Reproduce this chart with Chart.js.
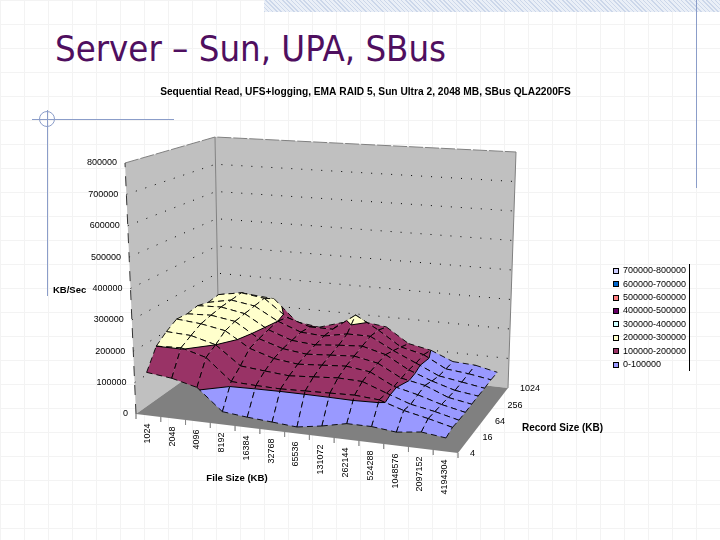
<!DOCTYPE html>
<html>
<head>
<meta charset="utf-8">
<title>Server - Sun, UPA, SBus</title>
<script src="https://cdn.jsdelivr.net/npm/chart.js@4/dist/chart.umd.min.js"></script>
<style>
    html, body { margin: 0; padding: 0; background: #fff; }
    #slide {
        position: relative; width: 720px; height: 540px; overflow: hidden;
        background-image:
            linear-gradient(to right, #f3f3f3 1px, transparent 1px),
            linear-gradient(to bottom, #f3f3f3 1px, transparent 1px);
        background-size: 24px 24px;
    }
    #slide canvas { position: absolute; left: 0; top: 0; }
    h1 {
        position: absolute; left: 55px; top: 27px; margin: 0;
        font: normal 36.2px "DejaVu Sans Condensed", "DejaVu Sans", sans-serif;
        color: #4f0f5f; white-space: nowrap;
    }
    .band {
        position: absolute; left: 264px; top: 0; width: 456px; height: 12px;
        background: repeating-linear-gradient(45deg, #ccd7ea 0 1px, #eaeff7 1px 3px);
    }
    .deco { position: absolute; background: #8b9dc9; }
    .ring {
        position: absolute; left: 39px; top: 111px; width: 14px; height: 14px;
        border: 1px solid #8b9dc9; border-radius: 50%;
    }
</style>
</head>
<body>
<div id="slide">
    <div class="band"></div>
    <div class="deco" style="left:696px;top:0;width:1px;height:188px"></div>
    <div class="deco" style="left:32px;top:119px;width:142px;height:1px"></div>
    <div class="deco" style="left:47px;top:110px;width:1px;height:186px"></div>
    <div class="ring"></div>
    <h1>Server – Sun, UPA, SBus</h1>
    <canvas id="myChart" width="720" height="540"></canvas>
</div>
<script>
const chartTitle = 'Sequential Read, UFS+logging, EMA RAID 5, Sun Ultra 2, 2048 MB, SBus QLA2200FS';

const fileSizes = ['1024', '2048', '4096', '8192', '16384', '32768', '65536', '131072', '262144', '524288', '1048576', '2097152', '4194304'];
const recordLabels = ['4', '16', '64', '256', '1024'];
const valueTicks = [0, 100000, 200000, 300000, 400000, 500000, 600000, 700000, 800000];

// KB/Sec for each record size, one value per file size
const record4 = [137000, 127000, 107000, 40000, 32000, 26000, 20000, 32000, 48000, 48000, 40000, 49000, 40000];
const record8 = [200000, 203000, 180000, 112000, 108000, 106000, 108000, 110000, 112000, 106000, 82000, 66000, 48000];
const record16 = [227000, 222000, 200000, 140000, 132000, 125000, 130000, 135000, 132000, 104000, 78000, 64000, 46000];
const record32 = [248000, 240000, 225000, 175000, 150000, 140000, 145000, 150000, 140000, 102000, 84000, 62000, 46000];
const record64 = [245000, 248000, 235000, 185000, 160000, 150000, 155000, 160000, 145000, 105000, 90000, 60000, 47000];
const record128 = [252000, 255000, 240000, 193000, 165000, 158000, 165000, 170000, 150000, 108000, 80000, 58000, 48000];
const record256 = [242000, 258000, 245000, 200000, 170000, 165000, 180000, 180000, 140000, 106000, 72000, 60000, 48000];
const record512 = [248000, 262000, 250000, 190000, 165000, 165000, 222000, 178000, 128000, 110000, 70000, 62000, 50000];
const record1024 = [224000, 233000, 226000, 151000, 140000, 164000, 175000, 165000, 115000, 100000, 69000, 65000, 49000];
const surface = [record4, record8, record16, record32, record64, record128, record256, record512, record1024];

const bandLabels = ['700000-800000', '600000-700000', '500000-600000', '400000-500000', '300000-400000', '200000-300000', '100000-200000', '0-100000'];
const bandColors = ['#CCCCFF', '#0066CC', '#FF8080', '#660066', '#CCFFFF', '#FFFFCC', '#993366', '#9999FF'];

const maxValue = 800000;
const bandSize = 100000;

// corners of the 3D box on the page
const floorBox = { fl: [136, 414], fr: [458, 453], bl: [219, 355], br: [508, 388] };
const topBox = { fl: [125, 163], fr: [466, 181], bl: [215, 137], br: [516, 152] };

const lerp = (a, b, t) => a + (b - a) * t;

const boxPoint = (box, a, b) => [
    lerp(lerp(box.fl[0], box.fr[0], a), lerp(box.bl[0], box.br[0], a), b),
    lerp(lerp(box.fl[1], box.fr[1], a), lerp(box.bl[1], box.br[1], a), b)
];

// a = along file size 0..1, b = along record size 0..1
const project = (a, b, value) => {
    const f = boxPoint(floorBox, a, b);
    const t = boxPoint(topBox, a, b);
    const k = value / maxValue;
    return { x: lerp(f[0], t[0], k), y: lerp(f[1], t[1], k) };
};

// file sizes sit in the middle of their bands, record sizes on the ticks
const gridPoint = (i, j, value) => project((i + 0.5) / fileSizes.length, j / (surface.length - 1), value);

const datasets = [];

const addShape = (points, color) => {
    datasets.push({ data: points, showLine: true, fill: 'shape', backgroundColor: color, borderWidth: 0, borderColor: 'transparent', pointRadius: 0 });
};

const addLine = (points, color, width, dash) => {
    datasets.push({ data: points, showLine: true, fill: false, borderColor: color, borderWidth: width, borderDash: dash, pointRadius: 0 });
};

// walls and floor
addShape([project(0, 0, 0), project(0, 1, 0), project(0, 1, maxValue), project(0, 0, maxValue), project(0, 0, 0)], '#C0C0C0');
addShape([project(0, 1, 0), project(1, 1, 0), project(1, 1, maxValue), project(0, 1, maxValue), project(0, 1, 0)], '#C0C0C0');
valueTicks.slice(1, -1).forEach(v => {
    addLine([project(0, 0, v), project(0, 1, v), project(1, 1, v)], '#000', 1, [1, 9]);
});
addShape([project(0, 0, 0), project(1, 0, 0), project(1, 1, 0), project(0, 1, 0), project(0, 0, 0)], '#808080');
addLine([project(0, 0, maxValue), project(0, 1, maxValue), project(1, 1, maxValue)], '#808080', 1, [14, 2]);
addLine([project(0, 1, 0), project(0, 1, maxValue)], '#808080', 1, []);
addLine([project(1, 1, 0), project(1, 1, maxValue)], '#808080', 1, []);
addLine([project(0, 0, 0), project(0, 0, maxValue)], '#333', 1, [10, 9]);

// tick marks under the front edge
for (let i = 0; i <= fileSizes.length; i++) {
    const p = project(i / fileSizes.length, 0, 0);
    addLine([p, { x: p.x, y: p.y + 5 }], '#777', 0.5, []);
}

// keep the part of the polygon where side * (value - level) >= 0
const clipPolygon = (poly, level, side) => {
    const out = [];
    poly.forEach((p, n) => {
        const q = poly[(n + 1) % poly.length];
        const dp = side * (p.v - level);
        const dq = side * (q.v - level);
        if (dp >= 0) out.push(p);
        if ((dp >= 0) !== (dq >= 0)) {
            const t = (level - p.v) / (q.v - p.v);
            out.push({ i: lerp(p.i, q.i, t), j: lerp(p.j, q.j, t), v: level });
        }
    });
    return out;
};

const levelCrossings = (poly, level) => {
    const out = [];
    poly.forEach((p, n) => {
        const q = poly[(n + 1) % poly.length];
        if ((p.v >= level) !== (q.v >= level)) {
            const t = (level - p.v) / (q.v - p.v);
            out.push(gridPoint(lerp(p.i, q.i, t), lerp(p.j, q.j, t), level));
        }
    });
    return out;
};

const breakPoint = { x: NaN, y: NaN };
const node = (i, j) => ({ i: i, j: j, v: surface[j][i] });
const nodePoint = n => gridPoint(n.i, n.j, n.v);

// draw cells back to front, from the outside towards the middle
const middle = (fileSizes.length - 2) / 2;
const columnOrder = fileSizes.slice(1).map((s, i) => i).sort((a, b) => Math.abs(b - middle) - Math.abs(a - middle));

for (let j = surface.length - 2; j >= 0; j--) {
    columnOrder.forEach(i => {
        const cell = [node(i, j), node(i + 1, j), node(i + 1, j + 1), node(i, j + 1)];

        bandColors.forEach((color, n) => {
            const lo = (bandColors.length - 1 - n) * bandSize;
            let part = clipPolygon(cell, lo, 1);
            if (part.length) part = clipPolygon(part, lo + bandSize, -1);
            if (part.length > 2) {
                const pts = part.map(p => gridPoint(p.i, p.j, p.v));
                pts.push(pts[0]);
                addShape(pts, color);
            }
        });

        valueTicks.forEach(level => {
            const c = levelCrossings(cell, level);
            if (c.length >= 2) addLine([c[0], c[1]], '#000', 1, []);
        });

        // always run the edges the same way so the dashes of neighbours line up
        addLine([
            nodePoint(cell[0]), nodePoint(cell[1]), breakPoint,
            nodePoint(cell[3]), nodePoint(cell[2]), breakPoint,
            nodePoint(cell[0]), nodePoint(cell[3]), breakPoint,
            nodePoint(cell[1]), nodePoint(cell[2])
        ], '#000', 0.9, [6, 4]);
    });
}

// the library paints the first dataset last
datasets.reverse();

const chartText = {
    id: 'chartText',
    afterDraw(chart) {
        const ctx = chart.ctx;
        const sx = chart.scales.x;
        const sy = chart.scales.y;
        const px = p => ({ x: sx.getPixelForValue(p.x), y: sy.getPixelForValue(p.y) });
        const smallFont = '9px "Liberation Sans", Arial, sans-serif';

        const put = (text, x, y, align, font) => {
            ctx.font = font;
            ctx.textAlign = align;
            ctx.textBaseline = 'middle';
            ctx.fillText(text, x, y);
        };

        ctx.save();
        ctx.fillStyle = '#000';

        put(chartTitle, 365.5, 92, 'center', 'bold 10.2px "Liberation Sans", Arial, sans-serif');
        put('KB/Sec', 53, 290, 'left', 'bold 9.5px "Liberation Sans", Arial, sans-serif');
        put('File Size (KB)', 237, 478, 'center', 'bold 9.6px "Liberation Sans", Arial, sans-serif');
        put('Record Size (KB)', 522, 428, 'left', 'bold 10px "Liberation Sans", Arial, sans-serif');

        valueTicks.forEach(v => {
            const p = px(project(0, 0, v));
            put(String(v), p.x - 8, p.y, 'right', smallFont);
        });

        recordLabels.forEach((label, n) => {
            const p = px(project(1, 1 * n / (recordLabels.length - 1), 0));
            put(label, p.x + 12, p.y + 1, 'left', smallFont);
        });

        fileSizes.forEach((label, i) => {
            const p = px(project((i + 0.5) / fileSizes.length, 0, 0));
            ctx.save();
            ctx.translate(p.x - 1, p.y + 8);
            ctx.rotate(-Math.PI / 2);
            put(label, 0, 0, 'right', smallFont);
            ctx.restore();
        });

        // legend
        bandLabels.forEach((label, n) => {
            const y = 270.7 + n * 13.43;
            ctx.fillStyle = bandColors[n];
            ctx.fillRect(613.5, Math.round(y) - 2.5, 5, 5);
            ctx.strokeStyle = '#000';
            ctx.lineWidth = 1;
            ctx.strokeRect(613.5, Math.round(y) - 2.5, 5, 5);
            ctx.fillStyle = '#000';
            put(label, 623, y, 'left', smallFont);
        });
        ctx.fillRect(689, 264, 1, 107);
        ctx.restore();
    }
};

new Chart(document.getElementById('myChart').getContext('2d'), {
    type: 'scatter',
    data: { datasets: datasets },
    options: {
        responsive: false,
        animation: false,
        events: [],
        clip: false,
        layout: { padding: 0 },
        scales: {
            x: { type: 'linear', min: 0, max: 720, display: false },
            y: { type: 'linear', min: 0, max: 540, reverse: true, display: false }
        },
        plugins: { legend: { display: false }, title: { display: false }, tooltip: { enabled: false } }
    },
    plugins: [chartText]
});
</script>
</body>
</html>
